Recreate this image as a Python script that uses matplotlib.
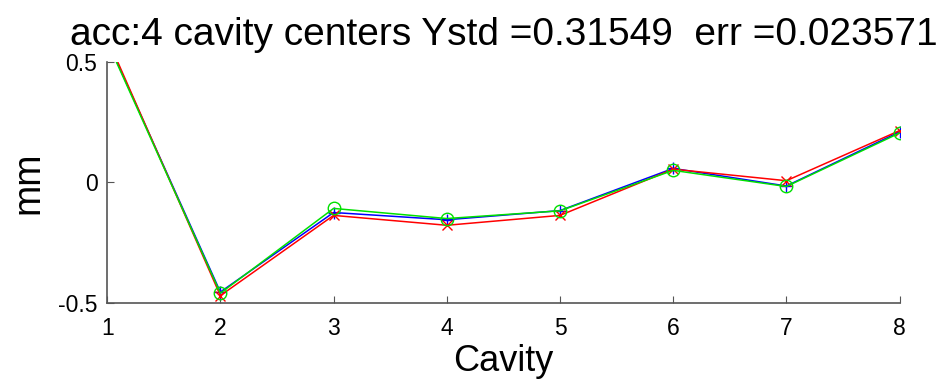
import matplotlib
matplotlib.use("Agg")
import matplotlib.pyplot as plt

cavity = [1, 2, 3, 4, 5, 6, 7, 8]
blue_vals = [0.59, -0.455, -0.125, -0.155, -0.117, 0.058, -0.015, 0.21]
red_vals = [0.60, -0.47, -0.137, -0.178, -0.137, 0.055, 0.007, 0.215]
green_vals = [0.585, -0.46, -0.108, -0.15, -0.118, 0.05, -0.017, 0.205]
title = "acc:4 cavity centers Ystd =0.31549  err =0.023571"

plt.rcParams['font.family'] = ['Liberation Sans', 'DejaVu Sans']
fig = plt.figure(figsize=(9.4, 3.8), dpi=100)
ax = fig.add_axes([0.114, 0.203, 0.843, 0.634])

ax.plot(cavity, blue_vals, color='#0000ff', marker='+', ms=9, lw=1.1, mew=1.0)
ax.plot(cavity, red_vals, color='#ff0000', marker='x', ms=7, lw=1.1, mew=1.0)
ax.plot(cavity, green_vals, color='#00e000', marker='o', ms=9, lw=1.1, mew=1.0, mfc='none')

ax.set_xlim(1, 8)
ax.set_ylim(-0.5, 0.5)
ax.set_xticks(cavity)
ax.set_yticks([-0.5, 0, 0.5])
ax.set_yticklabels(['-0.5', '0', '0.5'])
for s in ['top', 'right']:
    ax.spines[s].set_visible(False)
for s in ['left', 'bottom']:
    ax.spines[s].set_color('#555555')
    ax.spines[s].set_linewidth(1.2)
ax.tick_params(direction='in', length=5, colors='#555555', labelcolor='black', labelsize=16.5)
ax.tick_params(axis='x', pad=10)
ax.tick_params(axis='y', pad=7)
ax.set_xlabel('Cavity', fontsize=26, labelpad=3)
ax.set_ylabel('mm', fontsize=27, labelpad=8)
ax.set_title(title, fontsize=28, pad=12)

fig.savefig('out.png', dpi=100)
